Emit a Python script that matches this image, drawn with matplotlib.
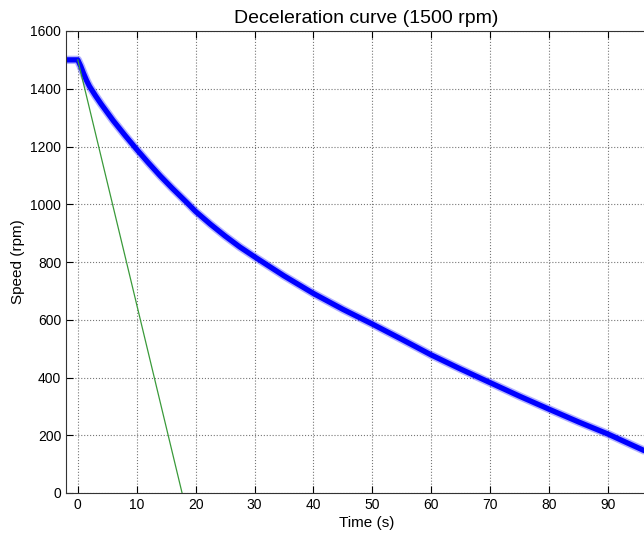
import matplotlib.pyplot as plt

time_s = [-2, -1, 0, 0.5, 1, 1.5, 2, 3, 4, 5, 6, 8, 10, 12, 14, 16, 18.5, 20,
          22.5, 25, 27.5, 30, 35, 40, 45, 50, 55, 60, 65, 70, 75, 80, 85, 90,
          96, 100]
speed_rpm = [1500, 1500, 1500, 1478, 1452, 1428, 1408, 1376, 1346, 1318, 1290,
             1239, 1190, 1143, 1098, 1056, 1006, 975, 931, 890, 852, 818, 752,
             691, 636, 585, 532, 478, 429, 382, 335, 290, 246, 204, 148, 117]

# initial tangent
tan_t = [0, 17.7]
tan_v = [1500, 0]

plt.rcParams['font.family'] = ['Liberation Sans', 'DejaVu Sans']

fig = plt.figure(figsize=(6.44, 5.36), dpi=100)
ax = fig.add_axes([66 / 644, 43 / 536, 601 / 644, 462 / 536])

# fuzzy band + solid core for the noisy measurement
ax.plot(time_s, speed_rpm, color="#0000ff", lw=6, alpha=0.3, solid_capstyle="butt")
ax.plot(time_s, speed_rpm, color="#0000ff", lw=3.8, solid_capstyle="butt")
ax.plot(tan_t, tan_v, color="#3a9a3a", lw=0.9)

ax.set_xlim(-2, 100)
ax.set_ylim(0, 1600)
# the 100 tick sits past the visible edge
ax.set_xticks(range(0, 91, 10))
ax.set_yticks(range(0, 1601, 200))

ax.grid(True, linestyle=":", color="#777777", linewidth=0.8)
ax.tick_params(direction="in", length=5, top=True, right=True,
               labelsize=10, colors="black")
for s in ax.spines.values():
    s.set_color("#333333")
    s.set_linewidth(0.8)

ax.set_title("Deceleration curve (1500 rpm)", fontsize=14, pad=6)
ax.set_xlabel("Time (s)", fontsize=11, labelpad=3)
ax.set_ylabel("Speed (rpm)", fontsize=11, labelpad=4)

fig.savefig("out.png", dpi=100)
